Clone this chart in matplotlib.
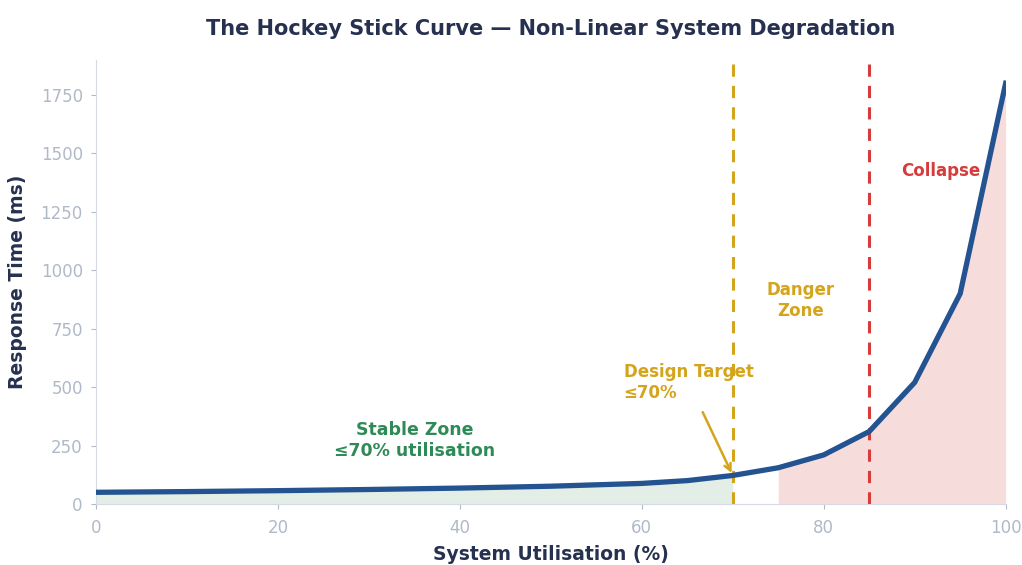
import matplotlib.pyplot as plt
import numpy as np

utilisation = [0, 10, 20, 30, 40, 50, 60, 65, 70, 75, 80, 85, 90, 95, 100]
response_ms = [50, 53, 57, 62, 68, 76, 88, 100, 122, 155, 210, 310, 520, 900, 1800]

design_target = 70
collapse_point = 85
danger_fill_start = 75

NAVY = '#26304f'
LINE = '#235390'
GOLD = '#d4a41c'
RED = '#d63c3c'
GREEN = '#2e8b57'
TICK = '#b0b9c9'

plt.rcParams['font.family'] = 'DejaVu Sans'

fig, ax = plt.subplots(figsize=(10.22, 5.65), dpi=100)
fig.subplots_adjust(left=0.094, right=0.984, top=0.894, bottom=0.108)

x = np.array(utilisation, dtype=float)
y = np.array(response_ms, dtype=float)

stable = x <= design_target
ax.fill_between(x[stable], 0, y[stable], color='#d7e8dc', alpha=0.7, lw=0)
danger = x >= danger_fill_start
ax.fill_between(x[danger], 0, y[danger], color='#f3d2d0', alpha=0.75, lw=0)

ax.plot(x, y, color=LINE, lw=3.8, zorder=3)

ax.axvline(design_target, color=GOLD, ls=(0, (4, 3)), lw=2.2, zorder=2)
ax.axvline(collapse_point, color=RED, ls=(0, (4, 3)), lw=2.2, zorder=2)

ax.text(35, 270, 'Stable Zone\n≤70% utilisation', color=GREEN, fontsize=12.5,
        fontweight='bold', ha='center', va='center')
ax.text(77.5, 870, 'Danger\nZone', color=GOLD, fontsize=12,
        fontweight='bold', ha='center', va='center')
ax.text(88.5, 1425, 'Collapse', color=RED, fontsize=12,
        fontweight='bold', ha='left', va='center')
ax.annotate('Design Target\n≤70%', xy=(design_target, 122), xytext=(58, 520),
            color=GOLD, fontsize=12, fontweight='bold', ha='left', va='center',
            arrowprops=dict(arrowstyle='->', color=GOLD, lw=1.8, shrinkA=6))

ax.set_xlim(0, 100)
ax.set_ylim(0, 1900)
ax.set_yticks([0, 250, 500, 750, 1000, 1250, 1500, 1750])
ax.set_xticks([0, 20, 40, 60, 80, 100])

for side in ['top', 'right']:
    ax.spines[side].set_visible(False)
for side in ['left', 'bottom']:
    ax.spines[side].set_color('#d5dae3')
ax.tick_params(colors=TICK, labelsize=12, labelcolor=TICK)
ax.tick_params(axis='x', pad=7)
ax.tick_params(axis='y', pad=6)

ax.set_xlabel('System Utilisation (%)', fontsize=13.5, fontweight='bold', color=NAVY,
              labelpad=6)
ax.set_ylabel('Response Time (ms)', fontsize=13.5, fontweight='bold', color=NAVY,
              labelpad=10)
ax.set_title('The Hockey Stick Curve — Non-Linear System Degradation',
             fontsize=15, fontweight='bold', color=NAVY, pad=18)

fig.savefig('out.png', dpi=100)
